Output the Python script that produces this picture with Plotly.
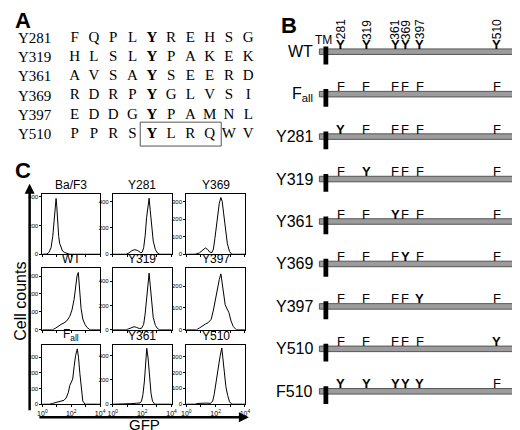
import plotly.graph_objects as go

W, H = 520, 430

# ---------------- A: sequence context of each tyrosine
motif_sites = ["Y281", "Y319", "Y361", "Y369", "Y397", "Y510"]
motif_seqs = ["FQPLYREHSG", "HLSLYPAKEK", "AVSAYSEERD",
              "RDRPYGLVSI", "EDDGYPAMNL", "PPRSYLRQWV"]
center_col = 4
boxed_row = 5          # Y510 ...
boxed_cols = (4, 7)    # ... YLRQ

# ---------------- B: receptor constructs
tyr_sites = [281, 319, 361, 369, 397, 510]
constructs = ["WT", "F<sub>all</sub>", "Y281", "Y319", "Y361",
              "Y369", "Y397", "Y510", "F510"]
construct_aa = ["YYYYYY", "FFFFFF", "YFFFFF", "FYFFFF", "FFYFFF",
                "FFFYFF", "FFFFYF", "FFFFFY", "YYYYYF"]
protein_span = (250, 543)
tm_span = (256, 263)

# ---------------- C: GFP histograms (log10 GFP, cell counts)
gfp_baf3 = [0.0, 0.3, 0.45, 0.6, 0.72, 0.82, 0.9, 0.95, 1.0, 1.06, 1.13, 1.2, 1.29, 1.4, 1.55, 1.7, 1.9, 4.0]
cnt_baf3 = [0, 2, 12, 45, 124, 230, 340, 388, 330, 194, 124, 75, 44, 22, 12, 5, 0, 0]

gfp_y281 = [0.0, 0.9, 1.1, 1.3, 1.5, 1.7, 1.9, 2.0, 2.1, 2.2, 2.3, 2.4, 2.47, 2.55, 2.65, 2.75, 2.9, 3.05, 3.2, 4.0]
cnt_y281 = [0, 0, 10, 28, 35, 28, 12, 15, 50, 140, 280, 400, 425, 330, 200, 100, 35, 8, 0, 0]

gfp_y369 = [0.0, 0.6, 0.9, 1.1, 1.3, 1.45, 1.6, 1.75, 1.85, 1.95, 2.05, 2.15, 2.25, 2.36, 2.45, 2.55, 2.65, 2.8, 2.95, 3.1, 4.0]
cnt_y369 = [0, 0, 8, 25, 36, 28, 12, 10, 30, 90, 170, 240, 290, 323, 300, 230, 150, 60, 15, 0, 0]

gfp_wt = [0.0, 0.7, 0.9, 1.1, 1.3, 1.5, 1.7, 1.9, 2.05, 2.2, 2.3, 2.4, 2.49, 2.58, 2.68, 2.8, 2.95, 3.1, 3.3, 4.0]
cnt_wt = [0, 0, 8, 20, 30, 38, 50, 75, 110, 170, 240, 300, 320, 230, 120, 60, 30, 12, 0, 0]

gfp_y319 = [0.0, 0.9, 1.1, 1.3, 1.45, 1.6, 1.8, 1.95, 2.1, 2.2, 2.3, 2.4, 2.47, 2.55, 2.65, 2.75, 2.9, 3.05, 3.2, 4.0]
cnt_y319 = [0, 0, 8, 20, 25, 20, 10, 12, 45, 130, 270, 420, 465, 360, 210, 100, 35, 8, 0, 0]

gfp_y397 = [0.0, 0.7, 0.9, 1.1, 1.3, 1.5, 1.7, 1.85, 2.0, 2.15, 2.25, 2.36, 2.45, 2.55, 2.65, 2.78, 2.9, 3.05, 3.2, 3.4, 4.0]
cnt_y397 = [0, 0, 8, 18, 26, 33, 48, 90, 150, 200, 230, 256, 210, 150, 115, 95, 80, 40, 15, 0, 0]

gfp_fall = [0.0, 0.5, 0.7, 0.9, 1.1, 1.3, 1.5, 1.65, 1.8, 1.9, 2.0, 2.1, 2.2, 2.3, 2.42, 2.5, 2.6, 2.7, 2.8, 2.95, 4.0]
cnt_fall = [0, 0, 5, 10, 15, 20, 25, 40, 75, 120, 142, 160, 240, 310, 353, 300, 195, 80, 20, 0, 0]

gfp_y361 = [0.0, 1.0, 1.3, 1.6, 1.85, 1.95, 2.05, 2.15, 2.23, 2.31, 2.4, 2.5, 2.6, 2.7, 2.85, 4.0]
cnt_y361 = [0, 0, 5, 8, 10, 25, 80, 190, 350, 460, 380, 220, 90, 25, 0, 0]

gfp_y510 = [0.0, 0.6, 0.8, 1.1, 1.4, 1.65, 1.8, 1.9, 2.0, 2.1, 2.2, 2.3, 2.42, 2.5, 2.6, 2.7, 2.82, 2.95, 3.1, 4.0]
cnt_y510 = [0, 0, 5, 8, 7, 5, 20, 60, 120, 210, 265, 300, 354, 280, 190, 110, 56, 15, 0, 0]

hist_titles = ["Ba/F3", "Y281", "Y369", "WT", "Y319", "Y397", "F<sub>all</sub>", "Y361", "Y510"]
hist_ymax = [421, 460, 345, 344, 506, 282, 380, 490, 375]
hist_dtick = [200, 200, 100, 100, 200, 100, 100, 200, 100]
decade_ticks = [0, 1, 2, 3, 4]
decade_text = ["10<sup>0</sup>", "", "10<sup>2</sup>", "", "10<sup>4</sup>"]

hists = [(gfp_baf3, cnt_baf3), (gfp_y281, cnt_y281), (gfp_y369, cnt_y369),
         (gfp_wt, cnt_wt), (gfp_y319, cnt_y319), (gfp_y397, cnt_y397),
         (gfp_fall, cnt_fall), (gfp_y361, cnt_y361), (gfp_y510, cnt_y510)]

SANS = "Liberation Sans, Arial, sans-serif"
SERIF = "Liberation Serif, serif"


def px_x(p):
    return p / W


def px_y(p):
    return 1 - p / H


fig = go.Figure()
layout = dict(width=W, height=H, margin=dict(l=0, r=0, t=0, b=0),
              paper_bgcolor="white", plot_bgcolor="white", showlegend=False)
annotations = []
shapes = []

# ---- C grid
col_px = [(30, 89), (102, 162), (177, 237)]
row_px = [(187, 248), (262, 324), (339, 399)]
for k, (gx, gy) in enumerate(hists):
    r, c = divmod(k, 3)
    n = k + 1
    xs = "" if n == 1 else str(n)
    fig.add_trace(go.Scatter(x=gx, y=gy, mode="lines", line=dict(color="black", width=1),
                             xaxis="x" + xs, yaxis="y" + xs, hoverinfo="skip"))
    frame = dict(showline=True, mirror=True, linecolor="black", linewidth=1,
                 showgrid=False, zeroline=False, ticks="outside", ticklen=2,
                 tickcolor="black", tickwidth=1)
    layout["xaxis" + xs] = dict(frame, domain=[px_x(col_px[c][0]), px_x(col_px[c][1])],
                                range=[0, 4], anchor="y" + xs, tickvals=decade_ticks,
                                ticktext=decade_text if r == 2 else [""] * 5,
                                tickfont=dict(family=SANS, size=7, color="black"))
    layout["yaxis" + xs] = dict(frame, domain=[px_y(row_px[r][1]), px_y(row_px[r][0])],
                                range=[0, hist_ymax[k]], anchor="x" + xs, dtick=hist_dtick[k],
                                tickfont=dict(family=SANS, size=6, color="black"))
    annotations.append(dict(text=hist_titles[k], xref="paper", yref="paper",
                            x=px_x((col_px[c][0] + col_px[c][1]) / 2), y=px_y(row_px[r][0]),
                            xanchor="center", yanchor="bottom", yshift=0, showarrow=False,
                            font=dict(family=SANS, size=12, color="black")))

# axis arrows and labels for C
annotations.append(dict(text="", xref="paper", yref="paper", x=px_x(17), y=px_y(177),
                        ax=0, ay=228, showarrow=True, arrowhead=2, arrowsize=0.8,
                        arrowwidth=2.5, arrowcolor="black"))
annotations.append(dict(text="", xref="paper", yref="paper", x=px_x(241), y=px_y(412),
                        ax=-211, ay=0, showarrow=True, arrowhead=2, arrowsize=0.8,
                        arrowwidth=2.5, arrowcolor="black"))
annotations.append(dict(text="Cell counts", xref="paper", yref="paper", x=px_x(8), y=px_y(295),
                        xanchor="center", yanchor="middle", textangle=-90, showarrow=False,
                        font=dict(family=SANS, size=16, color="black")))
annotations.append(dict(text="GFP", xref="paper", yref="paper", x=px_x(134), y=px_y(419),
                        xanchor="center", yanchor="middle", showarrow=False,
                        borderpad=0, font=dict(family=SANS, size=15, color="black")))

# ---- A: sequences as a text trace on hidden axes
ax_x, ax_y, ax_t = [], [], []
for i, seq in enumerate(motif_seqs):
    for j, aa in enumerate(seq):
        ax_x.append(j)
        ax_y.append(i)
        ax_t.append("<b>%s</b>" % aa if j == center_col else aa)
fig.add_trace(go.Scatter(x=ax_x, y=ax_y, text=ax_t, mode="text", xaxis="x11", yaxis="y11",
                         textfont=dict(family=SERIF, size=15, color="black"),
                         cliponaxis=False, hoverinfo="skip"))
hidden = dict(visible=False, showgrid=False, zeroline=False)
layout["xaxis11"] = dict(hidden, domain=[0, 0.5], range=[-3.198, 10.0], anchor="y11")
layout["yaxis11"] = dict(hidden, domain=[px_y(150), 1], range=[6.186, -1.546], anchor="x11")
for i, lab in enumerate(motif_sites):
    annotations.append(dict(text=lab, xref="paper", yref="y11", x=px_x(3), y=i,
                            xanchor="left", showarrow=False,
                            font=dict(family=SERIF, size=15, color="black")))
shapes.append(dict(type="rect", xref="x11", yref="y11",
                   x0=boxed_cols[0] - 0.6, x1=boxed_cols[1] + 0.6,
                   y0=boxed_row - 0.62, y1=boxed_row + 0.62,
                   line=dict(color="#555555", width=1)))

# ---- B: constructs on hidden axes (x = residue, y = construct row)
layout["xaxis10"] = dict(hidden, domain=[0.52, 1.0], range=[188.8, 547.3], anchor="y10")
layout["yaxis10"] = dict(hidden, domain=[0, 1], range=[9.029, -1.029], anchor="x10")
site_nudge = {369: 5}
for i, (name, aas) in enumerate(zip(constructs, construct_aa)):
    shapes.append(dict(type="rect", xref="x10", yref="y10", x0=protein_span[0], x1=protein_span[1],
                       y0=i - 0.065, y1=i + 0.065, fillcolor="#9c9c9c",
                       line=dict(color="#555555", width=1)))
    shapes.append(dict(type="rect", xref="x10", yref="y10", x0=tm_span[0], x1=tm_span[1],
                       y0=i - 0.12, y1=i + 0.30, fillcolor="black", line=dict(width=0)))
    annotations.append(dict(text=name, xref="paper", yref="y10", x=px_x(309), y=i,
                            xanchor="right", showarrow=False,
                            font=dict(family=SANS, size=16, color="black")))
    for site, aa in zip(tyr_sites, aas):
        annotations.append(dict(text="<b>Y</b>" if aa == "Y" else "F", xref="x10", yref="y10",
                                x=site, y=i, xanchor="center", yanchor="bottom", yshift=-2,
                                xshift=site_nudge.get(site, 0), showarrow=False,
                                font=dict(family=SANS, size=13, color="black")))
for site in tyr_sites:
    annotations.append(dict(text=str(site), xref="x10", yref="y10", x=site, y=0,
                            yshift=22, xshift=site_nudge.get(site, 0), textangle=-90,
                            xanchor="center", yanchor="middle",
                            showarrow=False, font=dict(family=SANS, size=12, color="black")))
annotations.append(dict(text="TM", xref="x10", yref="y10", x=tm_span[0], y=0, yshift=12,
                        xanchor="center", yanchor="middle",
                        showarrow=False, font=dict(family=SANS, size=12, color="black")))

# ---- panel letters
for letter, x, y in [("A", 0, 1), ("B", 272, 6), ("C", 0, 152)]:
    annotations.append(dict(text="<b>%s</b>" % letter, xref="paper", yref="paper",
                            x=px_x(x), y=px_y(y), xanchor="left", yanchor="top",
                            yshift=3, showarrow=False,
                            font=dict(family=SANS, size=22, color="black")))

layout["annotations"] = annotations
layout["shapes"] = shapes
fig.update_layout(**layout)
fig.write_html("out.html")
